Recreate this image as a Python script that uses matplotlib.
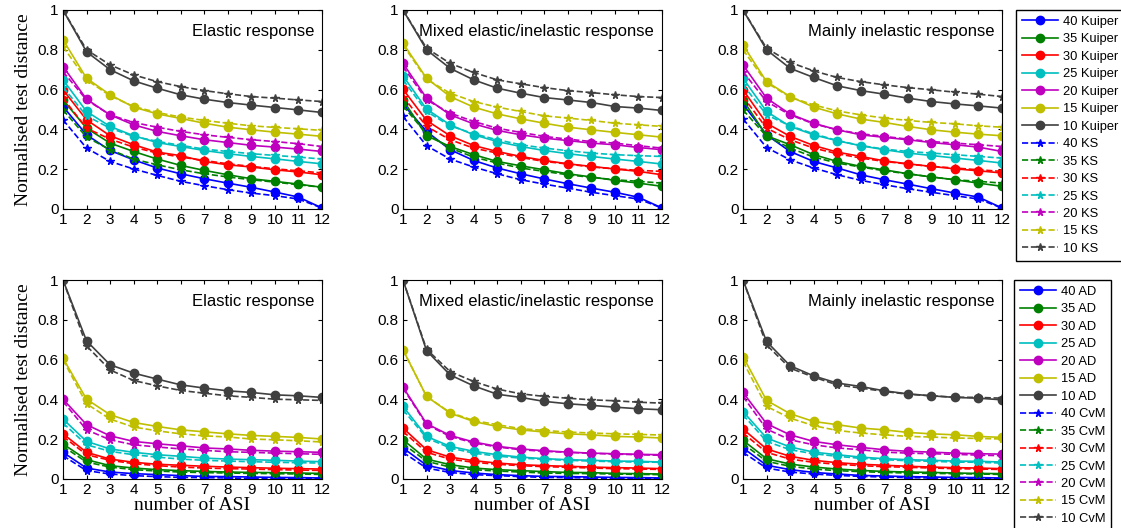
import matplotlib.pyplot as plt
import numpy as np

asi = np.arange(1, 13)
sample_sizes = [40, 35, 30, 25, 20, 15, 10]
colors = ['#0000ff', '#008000', '#ff0000', '#00bfbf', '#bf00bf', '#bfbf00', '#404040']
titles = ["Elastic response", "Mixed elastic/inelastic response", "Mainly inelastic response"]

# rows ordered 40, 35, 30, 25, 20, 15, 10
kuiper_elastic = [
    [0.515, 0.373, 0.294, 0.247, 0.206, 0.177, 0.152, 0.130, 0.109, 0.085, 0.060, 0.005],
    [0.548, 0.406, 0.331, 0.289, 0.251, 0.219, 0.194, 0.172, 0.152, 0.139, 0.125, 0.109],
    [0.599, 0.448, 0.368, 0.323, 0.286, 0.268, 0.239, 0.222, 0.211, 0.197, 0.186, 0.172],
    [0.649, 0.490, 0.415, 0.368, 0.334, 0.314, 0.294, 0.278, 0.264, 0.252, 0.239, 0.227],
    [0.716, 0.552, 0.473, 0.423, 0.390, 0.368, 0.348, 0.334, 0.320, 0.311, 0.301, 0.289],
    [0.850, 0.657, 0.574, 0.512, 0.478, 0.455, 0.431, 0.411, 0.398, 0.386, 0.376, 0.365],
    [1.000, 0.790, 0.700, 0.644, 0.607, 0.574, 0.552, 0.535, 0.522, 0.510, 0.498, 0.485],
]
ks_elastic = [
    [0.448, 0.306, 0.239, 0.201, 0.169, 0.139, 0.117, 0.097, 0.080, 0.067, 0.050, 0.005],
    [0.498, 0.361, 0.298, 0.251, 0.222, 0.197, 0.177, 0.161, 0.147, 0.135, 0.122, 0.109],
    [0.557, 0.406, 0.351, 0.311, 0.281, 0.261, 0.244, 0.227, 0.214, 0.202, 0.192, 0.181],
    [0.612, 0.468, 0.406, 0.365, 0.340, 0.320, 0.301, 0.289, 0.278, 0.269, 0.261, 0.251],
    [0.690, 0.548, 0.473, 0.435, 0.411, 0.390, 0.373, 0.360, 0.348, 0.339, 0.328, 0.314],
    [0.816, 0.649, 0.569, 0.515, 0.485, 0.462, 0.445, 0.431, 0.418, 0.410, 0.403, 0.395],
    [1.000, 0.800, 0.724, 0.674, 0.640, 0.615, 0.595, 0.579, 0.565, 0.557, 0.548, 0.540],
]
kuiper_mixed = [
    [0.527, 0.390, 0.298, 0.244, 0.206, 0.177, 0.151, 0.127, 0.105, 0.084, 0.059, 0.005],
    [0.548, 0.368, 0.314, 0.273, 0.239, 0.217, 0.197, 0.177, 0.161, 0.144, 0.130, 0.114],
    [0.602, 0.445, 0.368, 0.319, 0.289, 0.264, 0.244, 0.227, 0.214, 0.201, 0.189, 0.172],
    [0.669, 0.502, 0.423, 0.373, 0.339, 0.314, 0.294, 0.278, 0.264, 0.251, 0.239, 0.226],
    [0.732, 0.557, 0.473, 0.428, 0.395, 0.373, 0.356, 0.344, 0.331, 0.323, 0.309, 0.298],
    [0.833, 0.657, 0.565, 0.512, 0.478, 0.453, 0.431, 0.411, 0.398, 0.385, 0.373, 0.361],
    [1.000, 0.800, 0.707, 0.649, 0.607, 0.582, 0.560, 0.548, 0.535, 0.515, 0.507, 0.495],
]
ks_mixed = [
    [0.465, 0.318, 0.251, 0.211, 0.177, 0.147, 0.125, 0.105, 0.084, 0.067, 0.050, 0.005],
    [0.518, 0.378, 0.306, 0.261, 0.231, 0.206, 0.189, 0.172, 0.159, 0.147, 0.139, 0.130],
    [0.565, 0.415, 0.348, 0.306, 0.281, 0.259, 0.239, 0.226, 0.211, 0.202, 0.194, 0.189],
    [0.649, 0.490, 0.418, 0.378, 0.348, 0.323, 0.306, 0.293, 0.281, 0.273, 0.268, 0.264],
    [0.716, 0.548, 0.482, 0.440, 0.406, 0.385, 0.365, 0.351, 0.339, 0.331, 0.318, 0.306],
    [0.824, 0.652, 0.582, 0.540, 0.512, 0.490, 0.468, 0.457, 0.445, 0.431, 0.423, 0.415],
    [1.000, 0.808, 0.732, 0.686, 0.649, 0.629, 0.610, 0.595, 0.585, 0.574, 0.565, 0.560],
]
kuiper_inelastic = [
    [0.527, 0.373, 0.289, 0.239, 0.206, 0.172, 0.147, 0.125, 0.102, 0.080, 0.060, 0.005],
    [0.548, 0.368, 0.323, 0.273, 0.239, 0.214, 0.197, 0.177, 0.161, 0.147, 0.130, 0.114],
    [0.599, 0.431, 0.365, 0.319, 0.286, 0.264, 0.242, 0.227, 0.214, 0.202, 0.192, 0.181],
    [0.657, 0.490, 0.415, 0.373, 0.343, 0.318, 0.298, 0.281, 0.269, 0.256, 0.244, 0.231],
    [0.724, 0.557, 0.477, 0.431, 0.398, 0.373, 0.360, 0.348, 0.334, 0.323, 0.311, 0.289],
    [0.824, 0.640, 0.565, 0.512, 0.478, 0.452, 0.435, 0.415, 0.398, 0.386, 0.376, 0.368],
    [1.000, 0.800, 0.707, 0.661, 0.619, 0.595, 0.577, 0.557, 0.540, 0.528, 0.518, 0.507],
]
ks_inelastic = [
    [0.453, 0.309, 0.247, 0.206, 0.172, 0.144, 0.122, 0.102, 0.084, 0.067, 0.050, 0.005],
    [0.498, 0.365, 0.306, 0.261, 0.231, 0.211, 0.192, 0.177, 0.161, 0.147, 0.139, 0.130],
    [0.565, 0.406, 0.348, 0.306, 0.278, 0.256, 0.239, 0.226, 0.214, 0.206, 0.197, 0.189],
    [0.624, 0.473, 0.418, 0.378, 0.344, 0.319, 0.301, 0.289, 0.281, 0.273, 0.264, 0.256],
    [0.690, 0.540, 0.473, 0.428, 0.398, 0.378, 0.365, 0.351, 0.339, 0.331, 0.323, 0.314],
    [0.800, 0.635, 0.562, 0.523, 0.493, 0.473, 0.457, 0.445, 0.435, 0.428, 0.418, 0.411],
    [1.000, 0.808, 0.737, 0.694, 0.661, 0.640, 0.624, 0.610, 0.599, 0.587, 0.577, 0.565],
]
ad_elastic = [
    [0.134, 0.055, 0.035, 0.027, 0.022, 0.017, 0.013, 0.012, 0.010, 0.008, 0.007, 0.005],
    [0.176, 0.097, 0.067, 0.055, 0.047, 0.042, 0.038, 0.035, 0.033, 0.032, 0.030, 0.028],
    [0.227, 0.134, 0.100, 0.084, 0.074, 0.069, 0.064, 0.060, 0.057, 0.054, 0.052, 0.050],
    [0.301, 0.189, 0.151, 0.134, 0.122, 0.114, 0.105, 0.100, 0.097, 0.094, 0.090, 0.087],
    [0.401, 0.273, 0.217, 0.189, 0.177, 0.167, 0.156, 0.151, 0.144, 0.140, 0.137, 0.134],
    [0.607, 0.401, 0.323, 0.284, 0.264, 0.247, 0.237, 0.227, 0.219, 0.214, 0.209, 0.201],
    [1.000, 0.694, 0.574, 0.532, 0.502, 0.473, 0.457, 0.443, 0.435, 0.423, 0.418, 0.410],
]
cvm_elastic = [
    [0.117, 0.042, 0.025, 0.017, 0.012, 0.008, 0.007, 0.005, 0.003, 0.003, 0.002, 0.002],
    [0.164, 0.085, 0.060, 0.047, 0.040, 0.035, 0.032, 0.030, 0.028, 0.027, 0.025, 0.023],
    [0.214, 0.122, 0.094, 0.077, 0.067, 0.060, 0.055, 0.052, 0.050, 0.047, 0.045, 0.043],
    [0.281, 0.172, 0.139, 0.122, 0.110, 0.100, 0.094, 0.090, 0.087, 0.084, 0.082, 0.080],
    [0.390, 0.247, 0.197, 0.172, 0.161, 0.151, 0.144, 0.137, 0.134, 0.130, 0.127, 0.124],
    [0.599, 0.378, 0.301, 0.261, 0.242, 0.227, 0.217, 0.211, 0.201, 0.197, 0.192, 0.186],
    [1.000, 0.669, 0.548, 0.495, 0.468, 0.445, 0.431, 0.418, 0.410, 0.401, 0.398, 0.395],
]
ad_mixed = [
    [0.156, 0.069, 0.043, 0.030, 0.022, 0.017, 0.013, 0.012, 0.010, 0.008, 0.007, 0.005],
    [0.197, 0.100, 0.072, 0.055, 0.047, 0.042, 0.037, 0.033, 0.032, 0.028, 0.027, 0.025],
    [0.256, 0.147, 0.110, 0.092, 0.080, 0.072, 0.067, 0.064, 0.060, 0.057, 0.055, 0.052],
    [0.365, 0.214, 0.164, 0.139, 0.122, 0.110, 0.102, 0.097, 0.094, 0.090, 0.089, 0.085],
    [0.462, 0.278, 0.219, 0.186, 0.164, 0.151, 0.142, 0.135, 0.130, 0.127, 0.124, 0.122],
    [0.649, 0.415, 0.331, 0.289, 0.264, 0.247, 0.236, 0.227, 0.222, 0.214, 0.211, 0.206],
    [1.000, 0.645, 0.523, 0.468, 0.426, 0.410, 0.390, 0.378, 0.370, 0.361, 0.353, 0.348],
]
cvm_mixed = [
    [0.134, 0.055, 0.033, 0.022, 0.017, 0.012, 0.008, 0.007, 0.005, 0.003, 0.003, 0.002],
    [0.177, 0.089, 0.060, 0.047, 0.040, 0.035, 0.030, 0.028, 0.027, 0.025, 0.023, 0.022],
    [0.239, 0.134, 0.100, 0.084, 0.074, 0.067, 0.062, 0.059, 0.055, 0.052, 0.050, 0.048],
    [0.348, 0.206, 0.156, 0.130, 0.115, 0.105, 0.099, 0.094, 0.090, 0.087, 0.085, 0.084],
    [0.457, 0.273, 0.214, 0.181, 0.161, 0.147, 0.139, 0.134, 0.129, 0.125, 0.122, 0.119],
    [0.649, 0.415, 0.334, 0.294, 0.273, 0.253, 0.244, 0.236, 0.231, 0.227, 0.224, 0.221],
    [1.000, 0.652, 0.540, 0.490, 0.452, 0.428, 0.415, 0.406, 0.398, 0.393, 0.386, 0.381],
]
ad_inelastic = [
    [0.156, 0.069, 0.047, 0.033, 0.025, 0.018, 0.015, 0.012, 0.010, 0.008, 0.007, 0.005],
    [0.194, 0.102, 0.075, 0.060, 0.050, 0.043, 0.038, 0.035, 0.033, 0.030, 0.028, 0.027],
    [0.251, 0.151, 0.114, 0.094, 0.082, 0.074, 0.069, 0.064, 0.060, 0.057, 0.055, 0.052],
    [0.339, 0.206, 0.161, 0.135, 0.122, 0.110, 0.102, 0.097, 0.094, 0.090, 0.089, 0.085],
    [0.435, 0.278, 0.222, 0.189, 0.172, 0.159, 0.147, 0.139, 0.135, 0.130, 0.127, 0.125],
    [0.615, 0.395, 0.328, 0.289, 0.273, 0.256, 0.247, 0.234, 0.227, 0.222, 0.214, 0.209],
    [1.000, 0.691, 0.569, 0.518, 0.482, 0.465, 0.443, 0.428, 0.418, 0.410, 0.406, 0.398],
]
cvm_inelastic = [
    [0.134, 0.055, 0.035, 0.025, 0.018, 0.013, 0.010, 0.007, 0.005, 0.003, 0.003, 0.002],
    [0.177, 0.089, 0.064, 0.050, 0.042, 0.037, 0.033, 0.030, 0.028, 0.027, 0.025, 0.023],
    [0.231, 0.134, 0.100, 0.084, 0.074, 0.067, 0.062, 0.059, 0.055, 0.052, 0.050, 0.048],
    [0.323, 0.189, 0.147, 0.127, 0.114, 0.104, 0.097, 0.092, 0.089, 0.085, 0.084, 0.080],
    [0.415, 0.251, 0.197, 0.172, 0.156, 0.147, 0.135, 0.130, 0.127, 0.124, 0.120, 0.117],
    [0.590, 0.365, 0.306, 0.268, 0.244, 0.231, 0.222, 0.214, 0.211, 0.206, 0.204, 0.201],
    [1.000, 0.674, 0.557, 0.512, 0.473, 0.457, 0.440, 0.426, 0.418, 0.411, 0.410, 0.406],
]

top_row = [(kuiper_elastic, ks_elastic), (kuiper_mixed, ks_mixed), (kuiper_inelastic, ks_inelastic)]
bottom_row = [(ad_elastic, cvm_elastic), (ad_mixed, cvm_mixed), (ad_inelastic, cvm_inelastic)]

plt.rcParams['font.family'] = 'Liberation Sans'

fig = plt.figure(figsize=(11.21, 5.28), dpi=100)
lefts = [63 / 1121, 403 / 1121, 743 / 1121]
bottoms = [1 - 209 / 528, 1 - 479 / 528]
w, h = 259 / 1121, 199 / 528


def draw_panel(ax, solid, dashed, names, title):
    handles = []
    for i, n in enumerate(sample_sizes):
        ln, = ax.plot(asi, solid[i], '-', color=colors[i], marker='o', markersize=6,
                      linewidth=1.2, label=f"{n} {names[0]}")
        handles.append(ln)
    for i, n in enumerate(sample_sizes):
        ln, = ax.plot(asi, dashed[i], '--', color=colors[i], marker='*', markersize=5.5,
                      linewidth=1.2, label=f"{n} {names[1]}")
        handles.append(ln)
    ax.set_xlim(1, 12)
    ax.set_ylim(0, 1)
    ax.set_xticks(asi)
    ax.set_yticks([0, 0.2, 0.4, 0.6, 0.8, 1])
    ax.set_yticklabels(["0", "0.2", "0.4", "0.6", "0.8", "1"])
    ax.tick_params(direction='in', top=True, right=True, labelsize=11, length=3, pad=3)
    ax.text(0.97, 0.89, title, transform=ax.transAxes, ha='right', va='center', fontsize=12)
    return handles


for row, (data, names) in enumerate([(top_row, ("Kuiper", "KS")), (bottom_row, ("AD", "CvM"))]):
    for col in range(3):
        ax = fig.add_axes([lefts[col], bottoms[row], w, h])
        handles = draw_panel(ax, data[col][0], data[col][1], names, titles[col])
        if col == 0:
            ax.set_ylabel("Normalised test distance", family='Liberation Serif', fontsize=14,
                          labelpad=4)
        if row == 1:
            ax.set_xlabel("number of ASI", family='Liberation Serif', fontsize=14, labelpad=0)
    anchor = (1016 / 1121, 1 - 10 / 528) if row == 0 else (1014 / 1121, 1 - 280 / 528)
    fig.legend(handles=handles, loc='upper left', bbox_to_anchor=anchor, borderaxespad=0,
               fontsize=9.3, fancybox=False, edgecolor='black', framealpha=1,
               handlelength=2.8, labelspacing=0.42, borderpad=0.45, handletextpad=0.4)

fig.savefig("out.png", dpi=100)
